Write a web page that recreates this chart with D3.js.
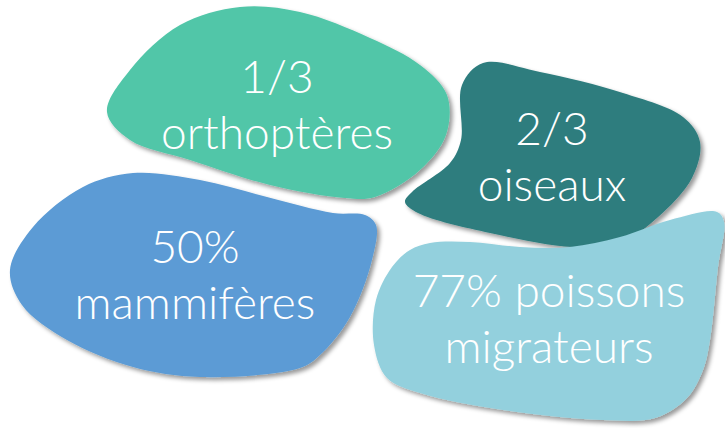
<!DOCTYPE html>
<html>
<head>
<meta charset="utf-8">
<script src="https://cdn.jsdelivr.net/npm/d3@7"></script>
<style>
  body { margin: 0; background: #fff; }
  text { font-family: Lato, "Open Sans", sans-serif; font-weight: 300; fill: #fff; }
</style>
</head>
<body>
<script>
// four groups of species, one blob each
var firstLines = ["1/3", "50%", "2/3", "77% poissons"];
var secondLines = ["orthoptères", "mammifères", "oiseaux", "migrateurs"];
var colors = ["#51C6A8", "#5B9BD5", "#2E7D7E", "#93D0DD"];

// outlines of the blobs
var outlines = [
    [[107,112],[130,70],[180,25],[240,7],[300,12],[370,38],[420,65],[447,95],[446,135],[420,170],[375,197],[345,198],[270,185],[190,160],[130,140]],
    [[133,173],[200,180],[267,197],[333,213],[365,215],[376,225],[372,260],[350,317],[320,355],[300,368],[200,377],[133,367],[67,340],[22,305],[10,270],[33,227],[83,187]],
    [[483,63],[540,72],[623,93],[683,117],[700,142],[692,178],[657,218],[620,243],[573,247],[490,233],[418,213],[405,202],[412,192],[450,163],[461,140],[462,85]],
    [[430,243],[470,242],[520,247],[570,247],[620,237],[670,220],[717,212],[724,222],[718,267],[710,340],[703,370],[687,398],[655,418],[603,420],[503,410],[420,393],[387,378],[374,345],[376,300],[392,267],[410,250]]
];
// label anchor: centre x, baseline of first line
var labelX = [277, 195, 552, 549];
var labelY = [93, 263, 145, 307];

var width = 725, height = 428;

var svg = d3.select("body").append("svg")
    .attr("width", width)
    .attr("height", height);

var defs = svg.append("defs");
defs.append("filter")
    .attr("id", "shadow")
    .attr("x", "-10%").attr("y", "-10%")
    .attr("width", "120%").attr("height", "125%")
    .append("feDropShadow")
    .attr("dx", 3).attr("dy", 3)
    .attr("stdDeviation", 2)
    .attr("flood-color", "#000")
    .attr("flood-opacity", 0.4);

var blob = d3.line().curve(d3.curveCatmullRomClosed.alpha(0.5));

var groups = svg.selectAll(".blob")
    .data(d3.range(outlines.length))
    .enter()
    .append("g")
    .attr("class", "blob");

groups.append("path")
    .attr("d", function(i){ return blob(outlines[i]); })
    .attr("fill", function(i){ return colors[i]; })
    .attr("filter", "url(#shadow)");

groups.append("text")
    .attr("x", function(i){ return labelX[i]; })
    .attr("y", function(i){ return labelY[i]; })
    .attr("text-anchor", "middle")
    .attr("font-size", 46)
    .text(function(i){ return firstLines[i]; });

groups.append("text")
    .attr("x", function(i){ return labelX[i]; })
    .attr("y", function(i){ return labelY[i] + 56; })
    .attr("text-anchor", "middle")
    .attr("font-size", 46)
    .text(function(i){ return secondLines[i]; });
</script>
</body>
</html>
